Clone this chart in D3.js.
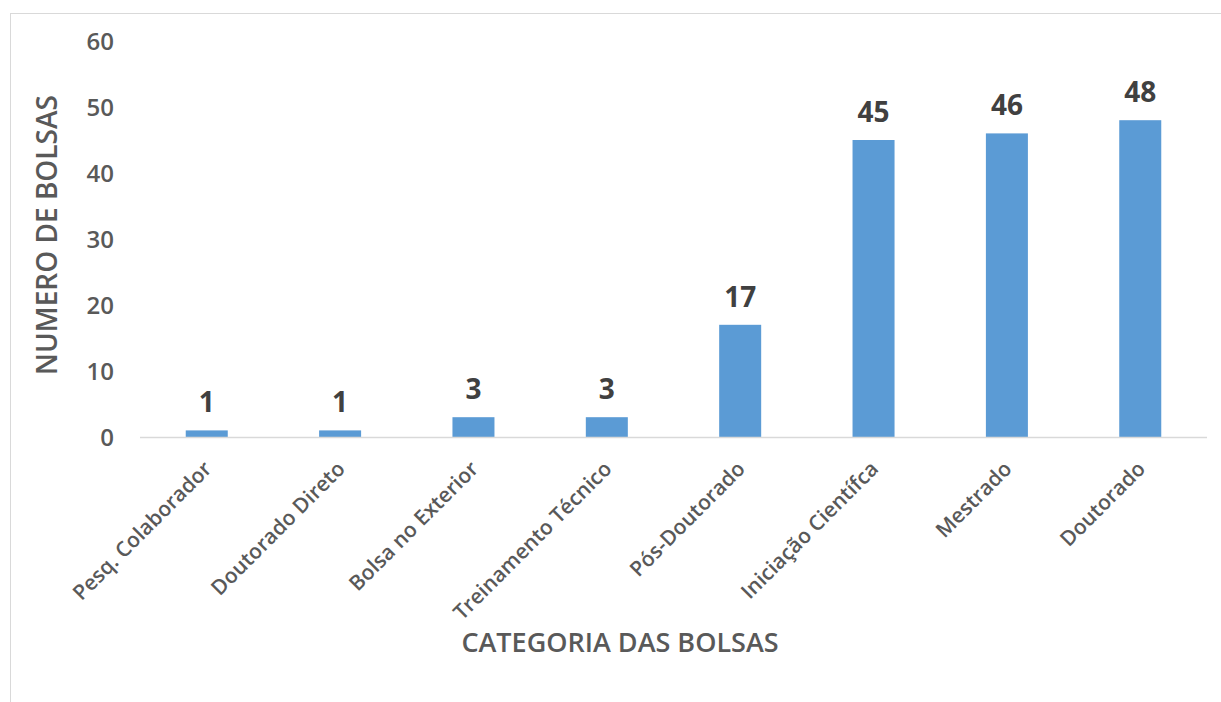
<html>
<head>
<meta charset="utf-8">
<script src="https://d3js.org/d3.v7.min.js"></script>
<style>
  body { margin: 0; background: #fff; }
  text { font-family: "Open Sans", sans-serif; }
</style>
</head>
<body>
<svg width="1221" height="702"></svg>
<script>
var categories = ["Pesq. Colaborador", "Doutorado Direto", "Bolsa no Exterior", "Treinamento Técnico",
                  "Pós-Doutorado", "Iniciação Científca", "Mestrado", "Doutorado"];
var values = [1, 1, 3, 3, 17, 45, 46, 48];
var yTicks = [0, 10, 20, 30, 40, 50, 60];

var svg = d3.select("svg");

// frame
svg.append("rect").attr("x", 10.5).attr("y", 13.5).attr("width", 1230).attr("height", 720)
  .attr("fill", "none").attr("stroke", "#d9d9d9");

var x = d3.scaleBand().domain(categories).range([140, 1207]).paddingInner(0.685).paddingOuter(0.343);
var y = d3.scaleLinear().domain([0, 60]).range([437, 41]);

// y axis labels
svg.append("g").selectAll("text").data(yTicks).join("text")
  .attr("x", 114).attr("y", d => y(d)).attr("dy", "0.36em")
  .attr("text-anchor", "end").attr("fill", "#595959")
  .style("font-size", "24px").style("font-weight", 600)
  .text(d => d);

// bars
svg.append("g").selectAll("rect").data(values).join("rect")
  .attr("x", (d, i) => x(categories[i]))
  .attr("y", d => y(d))
  .attr("width", x.bandwidth())
  .attr("height", d => y(0) - y(d))
  .attr("fill", "#5b9bd5");

// baseline
svg.append("line").attr("x1", 140).attr("x2", 1207).attr("y1", y(0) + 0.5).attr("y2", y(0) + 0.5)
  .attr("stroke", "#d9d9d9").attr("stroke-width", 1.5);

// value labels
svg.append("g").selectAll("text").data(values).join("text")
  .attr("x", (d, i) => x(categories[i]) + x.bandwidth() / 2)
  .attr("y", d => y(d) - 18)
  .attr("text-anchor", "middle").attr("fill", "#404040")
  .style("font-size", "28px").style("font-weight", 700)
  .text(d => d);

// category labels
svg.append("g").selectAll("text").data(categories).join("text")
  .attr("transform", d => "translate(" + (x(d) + x.bandwidth() / 2 + 1) + "," + (y(0) + 28) + ") rotate(-45)")
  .attr("text-anchor", "end").attr("dy", "0.35em").attr("fill", "#595959")
  .style("font-size", "21px").style("font-weight", 600)
  .text(d => d);

// axis titles
svg.append("text").attr("transform", "translate(57,235) rotate(-90)")
  .attr("text-anchor", "middle").attr("fill", "#595959")
  .style("font-size", "28px").style("font-weight", 600)
  .text("NUMERO DE BOLSAS");

svg.append("text").attr("x", 620).attr("y", 652)
  .attr("text-anchor", "middle").attr("fill", "#595959")
  .style("font-size", "27px").style("font-weight", 600)
  .text("CATEGORIA DAS BOLSAS");
</script>
</body>
</html>
